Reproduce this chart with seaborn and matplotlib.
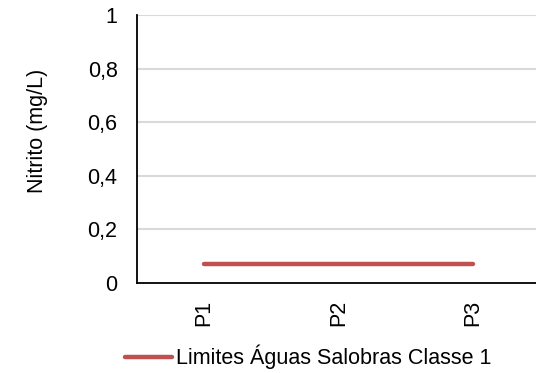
import matplotlib
matplotlib.use("Agg")
import matplotlib.pyplot as plt
import seaborn as sns
import pandas as pd

categories = ["P1", "P2", "P3"]
limite_values = [0.07, 0.07, 0.07]
y_ticks = [0, 0.2, 0.4, 0.6, 0.8, 1]
y_tick_labels = ["0", "0,2", "0,4", "0,6", "0,8", "1"]
series_name = "Limites Águas Salobras Classe 1"

sns.set_theme(style="white")
plt.rcParams['font.family'] = ['Liberation Sans', 'DejaVu Sans']

df = pd.DataFrame({"Ponto": categories, "Valor": limite_values, "Serie": series_name})

FS = 15.5
fig = plt.figure(figsize=(5.36, 3.73), dpi=100)
ax = fig.add_axes([0.2556, 0.2413, 0.752, 0.7185])

sns.lineplot(data=df, x="Ponto", y="Valor", hue="Serie", palette=["#c0504d"],
             linewidth=3.2, ax=ax, sort=False, solid_capstyle="round")

ax.set_xlim(-0.5, 2.5)
ax.set_ylim(0, 1)
ax.set_yticks(y_ticks)
ax.set_yticklabels(y_tick_labels, fontsize=FS, color="#000000")
ax.set_xticks(range(len(categories)))
ax.set_xticklabels(categories, rotation=90, fontsize=FS, color="#000000")
ax.tick_params(axis="y", length=0, pad=14)
ax.tick_params(axis="x", length=0, pad=12)
for y in y_ticks[1:]:
    ax.axhline(y, color="#d9d9d9", linewidth=1.5, zorder=0)
ax.set_xlabel("")
ax.set_ylabel("Nitrito (mg/L)", fontsize=FS, color="#000000")
ax.yaxis.set_label_coords(-0.221, 0.567)

for s in ["top", "right"]:
    ax.spines[s].set_visible(False)
for s in ["left", "bottom"]:
    ax.spines[s].set_color("#000000")
    ax.spines[s].set_linewidth(1.3)

leg = ax.legend(loc="center", bbox_to_anchor=(0.425, -0.276), frameon=False,
                fontsize=FS, handlelength=2.2, handletextpad=0.2)
for line in leg.get_lines():
    line.set_linewidth(3.2)
    line.set_solid_capstyle("round")
for t in leg.get_texts():
    t.set_color("#000000")

fig.savefig("out.png", dpi=100)
